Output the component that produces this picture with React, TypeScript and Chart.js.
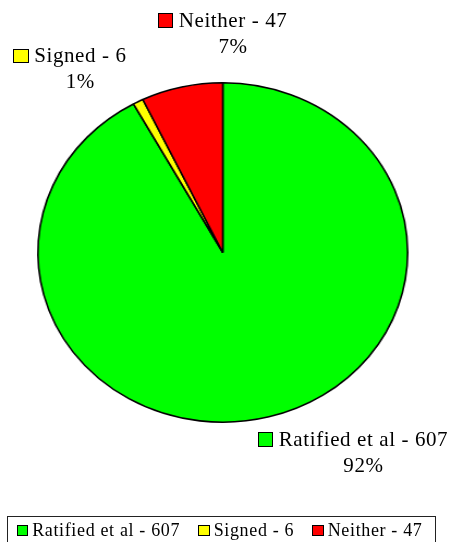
import React, { useEffect, useRef, useState } from 'react';
import { Chart, registerables } from 'chart.js';

Chart.register(...registerables);

// ---- data ----
const categories = ['Ratified et al', 'Signed', 'Neither'];
const counts = [607, 6, 47];
const sliceColors = ['#00FF00', '#FFFF00', '#FF0000'];

// ---- layout (the pie is drawn on a narrower canvas stretched horizontally) ----
const CANVAS_W = 414;
const CANVAS_H = 542;
const CSS_W = 451;
const SX = CSS_W / CANVAS_W;

// label anchor offsets (text centre x, first baseline) from each slice's outer mid point
const labelOffsets: [number, number][] = [
  [86.8, 29.5],
  [-53, -39.2],
  [47.1, -60.1],
];

const FONT = 'Liberation Serif';
const LABEL_FS = 21;
const LABEL_LH = 26;
const LABEL_LS = 0.6;
const LEGEND_FS = 18;
const LEGEND_LH = 20;
const LEGEND_LS = 0.65;
// distance from line-box top to baseline for a Times-metric font (ascent .891, descent .216)
const baseOff = (fs: number, lh: number) => lh / 2 + ((0.891 - 0.216) / 2) * fs;

const total = counts.reduce((a, b) => a + b, 0);

type LabelPos = { cx: number; by: number };

export default function App() {
  const ref = useRef<HTMLCanvasElement | null>(null);
  const [labels, setLabels] = useState<LabelPos[]>([]);

  useEffect(() => {
    if (!ref.current) return;
    const chart = new Chart(ref.current, {
      type: 'pie',
      data: {
        labels: categories,
        datasets: [
          {
            data: counts,
            backgroundColor: sliceColors,
            borderColor: '#000',
            borderWidth: 1.6,
          },
        ],
      },
      options: {
        animation: false,
        responsive: false,
        devicePixelRatio: 1,
        layout: { padding: { top: 82, bottom: 119, left: 34, right: 39 } },
        plugins: {
          legend: { display: false },
          tooltip: { enabled: false },
        },
      },
    });
    const meta = chart.getDatasetMeta(0);
    const pos: LabelPos[] = meta.data.map((arc: any, i: number) => {
      const p = arc.getProps(['x', 'y', 'startAngle', 'endAngle', 'outerRadius'], true);
      const mid = (p.startAngle + p.endAngle) / 2;
      const ax = p.x + Math.cos(mid) * p.outerRadius;
      const ay = p.y + Math.sin(mid) * p.outerRadius;
      // convert to page (stretched) pixels
      return { cx: (ax + labelOffsets[i][0]) * SX, by: ay + labelOffsets[i][1] };
    });
    setLabels(pos);
    return () => chart.destroy();
  }, []);

  const lbOff = baseOff(LABEL_FS, LABEL_LH);
  const lgOff = baseOff(LEGEND_FS, LEGEND_LH);
  const legendBaseline = 535.7;

  return (
    <div style={{ position: 'absolute', left: 0, top: 0, width: CSS_W, height: CANVAS_H, background: '#fff', overflow: 'hidden' }}>
      <canvas
        ref={ref}
        width={CANVAS_W}
        height={CANVAS_H}
        style={{ display: 'block', width: `${CSS_W}px`, height: `${CANVAS_H}px` }}
      />
      {labels.map((l, i) => (
        <React.Fragment key={i}>
          <div
            style={{
              position: 'absolute',
              left: l.cx - 150,
              width: 300,
              top: l.by - lbOff,
              textAlign: 'center',
              whiteSpace: 'nowrap',
              fontSize: LABEL_FS,
              lineHeight: `${LABEL_LH}px`,
              color: '#000',
            }}
          >
            <span style={{ position: 'relative', fontFamily: FONT, letterSpacing: LABEL_LS }}>
              <span
                style={{
                  position: 'absolute',
                  right: '100%',
                  marginRight: 5 * SX,
                  top: 0.891 * LABEL_FS - 14 + 0.5,
                  width: 14 * SX,
                  height: 14.5,
                  boxSizing: 'border-box',
                  border: '1.3px solid #000',
                  background: sliceColors[i],
                }}
              />
              {`${categories[i]} - ${counts[i]}`}
            </span>
          </div>
          <div
            style={{
              position: 'absolute',
              left: l.cx - 100,
              width: 200,
              top: l.by + 26 - lbOff,
              textAlign: 'center',
              whiteSpace: 'nowrap',
              fontSize: LABEL_FS,
              lineHeight: `${LABEL_LH}px`,
              color: '#000',
            }}
          >
            <span style={{ fontFamily: FONT, letterSpacing: LABEL_LS }}>
              {`${Math.round((counts[i] / total) * 100)}%`}
            </span>
          </div>
        </React.Fragment>
      ))}
      <div
        style={{
          position: 'absolute',
          left: 6.5,
          top: 516,
          width: 429,
          height: 40,
          boxSizing: 'border-box',
          border: '1px solid #222',
        }}
      />
      <div
        style={{
          position: 'absolute',
          left: 15.5 * SX,
          top: legendBaseline - lgOff,
          whiteSpace: 'nowrap',
          fontSize: LEGEND_FS,
          lineHeight: `${LEGEND_LH}px`,
          color: '#000',
        }}
      >
        {categories.map((c, i) => (
          <span key={c} style={{ marginRight: 16.8 * SX }}>
            <span
              style={{
                display: 'inline-block',
                width: 10.5 * SX,
                height: 10.5,
                boxSizing: 'border-box',
                border: '1.2px solid #000',
                background: sliceColors[i],
                marginRight: 3.5 * SX,
                verticalAlign: 'baseline',
              }}
            />
            <span style={{ fontFamily: FONT, letterSpacing: LEGEND_LS }}>{`${c} - ${counts[i]}`}</span>
          </span>
        ))}
      </div>
    </div>
  );
}
